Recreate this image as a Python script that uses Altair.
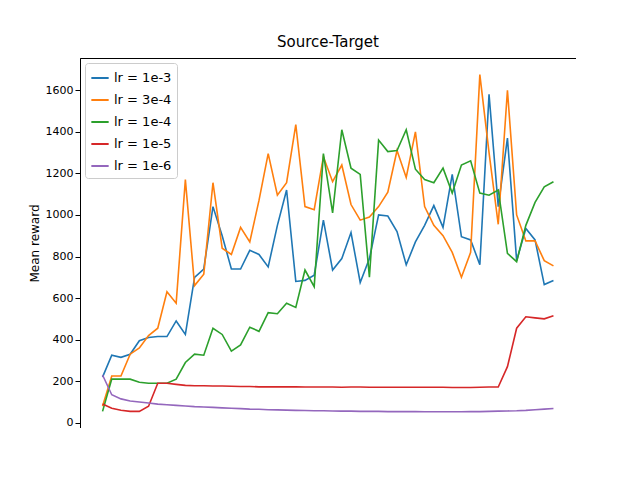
import altair as alt
import pandas as pd

steps = list(range(10000, 500001, 10000))
lr_1e3 = [220,325,315,330,395,410,415,415,490,425,700,740,1040,900,740,740,830,810,750,950,
          1120,680,685,710,975,735,790,915,675,790,1000,995,920,760,870,950,1045,940,1195,895,
          880,760,1580,1040,1370,780,935,880,665,685]
lr_3e4 = [80,225,225,330,360,420,455,630,575,1170,660,715,1155,840,810,940,870,1070,1295,1095,
          1155,1435,1040,1025,1280,1160,1240,1050,975,990,1040,1110,1310,1180,1400,1040,950,900,820,700,
          820,1675,1300,955,1600,1000,875,875,780,755]
lr_1e4 = [55,210,210,210,195,190,190,190,210,290,330,325,455,425,345,375,460,440,530,525,
          575,555,735,655,1295,1010,1410,1225,1195,700,1360,1305,1310,1410,1220,1170,1155,1225,1105,1240,
          1260,1105,1095,1120,815,775,950,1060,1135,1160]
lr_1e5 = [90,70,60,55,55,80,190,190,185,180,178,178,177,177,176,175,175,173,173,173,
          173,173,172,172,172,172,171,172,172,171,171,171,171,171,171,171,171,171,170,170,
          170,171,172,172,270,455,510,505,500,515]
lr_1e6 = [230,135,115,105,100,95,90,87,84,81,78,76,74,72,70,68,66,65,63,62,
          61,60,59,58,58,57,56,56,55,55,55,54,54,54,54,53,53,53,53,53,
          54,54,55,56,57,58,60,63,66,69]
labels = ["lr = 1e-3", "lr = 3e-4", "lr = 1e-4", "lr = 1e-5", "lr = 1e-6"]
colors = ["#1f77b4", "#ff7f0e", "#2ca02c", "#d62728", "#9467bd"]

rows = []
for lab, ser in zip(labels, [lr_1e3, lr_3e4, lr_1e4, lr_1e5, lr_1e6]):
    for s, v in zip(steps, ser):
        rows.append({"step": s, "reward": v, "series": lab})
df = pd.DataFrame(rows)

chart = alt.Chart(df).mark_line(strokeWidth=1.6).encode(
    x=alt.X("step:Q", title="Training steps", scale=alt.Scale(domain=[-14500, 524500], nice=False),
            axis=alt.Axis(values=[0,100000,200000,300000,400000,500000], grid=False, format="d")),
    y=alt.Y("reward:Q", title="Mean reward", scale=alt.Scale(domain=[-25, 1755], nice=False),
            axis=alt.Axis(values=[0,200,400,600,800,1000,1200,1400,1600], grid=False, format="d")),
    color=alt.Color("series:N", sort=labels, scale=alt.Scale(domain=labels, range=colors),
                    legend=alt.Legend(title=None, orient="top-left", symbolType="stroke",
                                      strokeColor="#ccc", fillColor="white", padding=5, offset=5,
                                      labelFontSize=13, symbolStrokeWidth=2, symbolSize=300,
                                      rowPadding=5, cornerRadius=3)),
    order=alt.Order("step:Q"),
).properties(width=496, height=370,
             autosize=alt.AutoSizeParams(type="none"),
             padding={"left": 72, "top": 50, "right": 0, "bottom": 0},
             title=alt.Title("Source-Target", fontSize=15, fontWeight="normal", offset=8)
).configure(font="DejaVu Sans").configure_axis(
    labelFontSize=11, titleFontSize=12, titleFontWeight="normal", domainColor="black",
    tickColor="black", labelColor="black", titleColor="black"
).configure_view(stroke="black")

chart.save("out.html", embed_options={"renderer": "svg", "actions": False})
